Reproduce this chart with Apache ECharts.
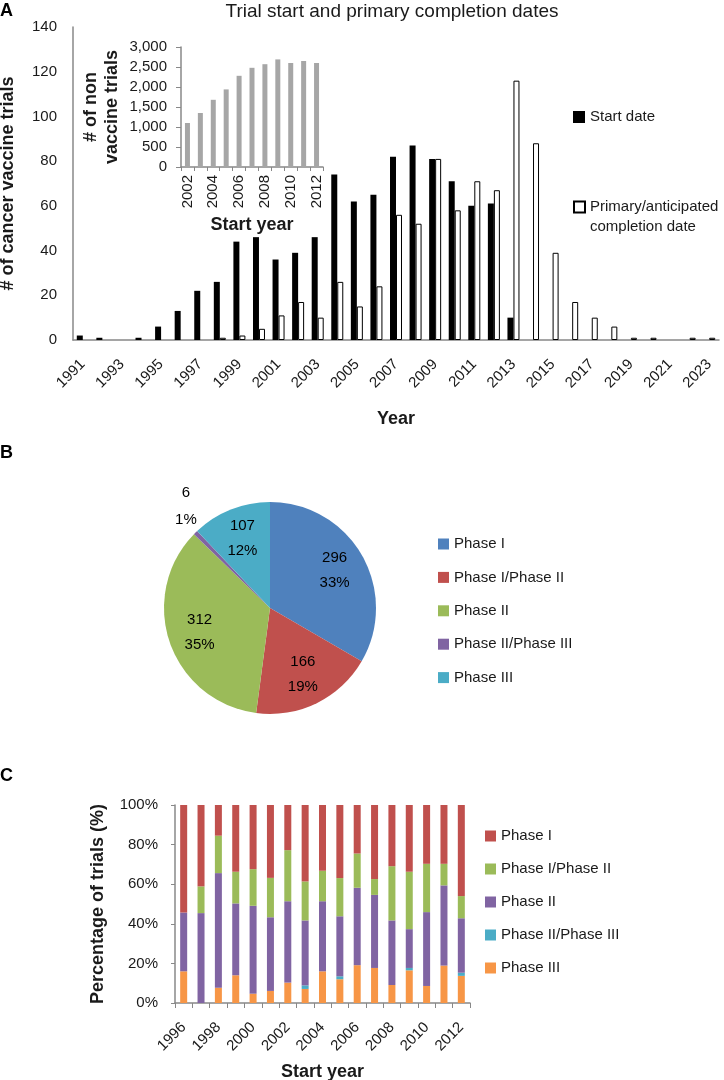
<!DOCTYPE html>
<html>
<head>
<meta charset="utf-8">
<script src="https://cdn.jsdelivr.net/npm/echarts@6/dist/echarts.min.js"></script>
<style>html,body{margin:0;padding:0;background:#fff;}#chart{width:724px;height:1080px;}</style>
</head>
<body>
<div id="chart"></div>
<script>
// ---------- Panel A data ----------
const yearsA = ['1991','1992','1993','1994','1995','1996','1997','1998','1999','2000','2001','2002','2003','2004','2005','2006','2007','2008','2009','2010','2011','2012','2013','2014','2015','2016','2017','2018','2019','2020','2021','2022','2023'];
const startDate = [2,1,0,1,6,13,22,26,44,46,36,39,46,74,62,65,82,87,81,71,60,61,10,0,0,0,0,0,0,0,0,0,0];
const completionDate = [0,0,0,0,0,0,0,1,2,5,11,17,10,26,15,24,56,52,81,58,71,67,116,88,39,17,10,6,1,1,0,1,1];
// ---------- Inset data ----------
const yearsInset = ['2002','2003','2004','2005','2006','2007','2008','2009','2010','2011','2012'];
const nonVaccine = [1100,1350,1680,1940,2280,2480,2570,2690,2600,2650,2600];
// ---------- Panel B data ----------
const phaseNames = ['Phase I','Phase I/Phase II','Phase II','Phase II/Phase III','Phase III'];
const phaseCounts = [296,166,312,6,107];
const phasePct = ['33%','19%','35%','1%','12%'];
// ---------- Panel C data (percent of trials) ----------
const yearsC = ['1996','1997','1998','1999','2000','2001','2002','2003','2004','2005','2006','2007','2008','2009','2010','2011','2012'];
const cPhaseI    = [54.3,41.1,15.5,33.7,32.4,36.8,22.8,38.6,33.2,36.9,24.5,37.4,30.9,33.7,29.7,29.7,46.0];
const cPhaseI_II = [0,13.5,18.9,16.0,18.5,19.9,25.8,19.7,15.4,19.3,17.3,8.0,27.4,29.0,24.4,10.9,11.2];
const cPhaseII   = [29.7,45.4,57.9,36.3,44.4,37.2,41.1,32.8,35.4,30.3,39.1,36.9,32.6,19.6,37.3,40.5,27.5];
const cPhaseII_III = [0,0,0,0,0,0,0,1.8,0,1.5,0,0,0,1.2,0,0,1.6];
const cPhaseIII  = [16.0,0,7.7,14.0,4.7,6.1,10.3,7.1,16.0,12.0,19.1,17.7,9.1,16.5,8.6,18.9,13.7];

const FONT = 'Liberation Sans, Arial, sans-serif';
const TXT = '#1a1a1a';
const AX = '#888';
const phaseColors = ['#4F81BD','#C0504D','#9BBB59','#8064A2','#4BACC6'];
const cColors = {'Phase I':'#C0504D','Phase I/Phase II':'#9BBB59','Phase II':'#8064A2','Phase II/Phase III':'#4BACC6','Phase III':'#F79646'};

const chart = echarts.init(document.getElementById('chart'), null, {renderer:'canvas'});

const pieData = phaseNames.map((n,i)=>({name:n, value:phaseCounts[i], itemStyle:{color:phaseColors[i]}}));
const pieLabelData = phaseNames.map((n,i)=>{
  const d = {name:n, value:phaseCounts[i]};
  if (n === 'Phase II/Phase III') {
    d.label = {position:'outside', formatter: '{v|' + phaseCounts[i] + '}\n{v|' + phasePct[i] + '}', offset:[25,-8]};
    d.labelLine = {show:false, length:25, length2:0};
  }
  return d;
});

const cSeriesDefs = [
  ['Phase III', cPhaseIII],
  ['Phase II/Phase III', cPhaseII_III],
  ['Phase II', cPhaseII],
  ['Phase I/Phase II', cPhaseI_II],
  ['Phase I', cPhaseI]
];

const letterStyle = {fontFamily:FONT, fontSize:18, fontWeight:'bold', color:'#000'};
const legendText = {fontFamily:FONT, fontSize:15, color:TXT, lineHeight:16};

const option = {
  animation:false,
  textStyle:{fontFamily:FONT},
  title:[
    {text:'Trial start and primary completion dates', left:392, top:2, padding:0, textAlign:'center', textStyle:{fontFamily:FONT, fontSize:19, fontWeight:'normal', color:TXT}},
    {text:'A', left:0, top:2, padding:0, textStyle:letterStyle},
    {text:'B', left:0, top:444, padding:0, textStyle:letterStyle},
    {text:'C', left:0, top:767, padding:0, textStyle:letterStyle}
  ],
  legend:[
    {data:['Start date'], left:573, top:109, padding:0, orient:'vertical', icon:'rect', itemWidth:12, itemHeight:12,
     textStyle:legendText},
    {data:['Primary/anticipated completion date'], left:573, top:177, padding:0, orient:'vertical', icon:'rect', itemWidth:11, itemHeight:11,
     formatter:()=> '\nPrimary/anticipated\ncompletion date',
     textStyle:{fontFamily:FONT, fontSize:15, color:TXT, lineHeight:20}},
    {data:phaseNames, left:438, top:536, padding:0, orient:'vertical', icon:'rect', itemWidth:11, itemHeight:11, itemGap:17.4,
     textStyle:legendText},
    {data:['Phase I','Phase I/Phase II','Phase II','Phase II/Phase III','Phase III'].map(n=>'C|'+n), left:485, top:828, padding:0, orient:'vertical', icon:'rect', itemWidth:11, itemHeight:11, itemGap:17,
     formatter:(n)=> n.split('|')[1],
     textStyle:legendText}
  ],
  grid:[
    {left:73, top:27, width:646, height:313, outerBoundsMode:'none', containLabel:false},
    {left:181, top:47, width:142, height:120, outerBoundsMode:'none', containLabel:false},
    {left:175, top:805, width:295, height:198, outerBoundsMode:'none', containLabel:false}
  ],
  xAxis:[
    {type:'category', gridIndex:0, data:yearsA, boundaryGap:true,
     axisLine:{show:true, lineStyle:{color:AX, width:1.5}}, axisTick:{show:false},
     axisLabel:{interval:1, rotate:45, margin:22, fontSize:15, color:TXT, fontFamily:FONT},
     name:'Year', nameLocation:'middle', nameGap:70, nameTextStyle:{fontSize:18, fontWeight:'bold', color:TXT, fontFamily:FONT}},
    {type:'category', gridIndex:1, data:yearsInset, boundaryGap:true,
     axisLine:{show:true, lineStyle:{color:AX, width:1.5}}, axisTick:{show:true, interval:0, length:4, lineStyle:{color:AX}},
     axisLabel:{interval:1, rotate:90, margin:8, fontSize:15, color:TXT, fontFamily:FONT},
     name:'Start year', nameLocation:'middle', nameGap:49, nameTextStyle:{fontSize:18, fontWeight:'bold', color:TXT, fontFamily:FONT}},
    {type:'category', gridIndex:2, data:yearsC, boundaryGap:true,
     axisLine:{show:true, lineStyle:{color:AX, width:1.5}}, axisTick:{show:true, interval:0, length:5, lineStyle:{color:AX}},
     axisLabel:{interval:1, rotate:45, margin:22, fontSize:15, color:TXT, fontFamily:FONT},
     name:'Start year', nameLocation:'middle', nameGap:60, nameTextStyle:{fontSize:18, fontWeight:'bold', color:TXT, fontFamily:FONT}}
  ],
  yAxis:[
    {type:'value', gridIndex:0, min:0, max:140, interval:20,
     axisLine:{show:true, lineStyle:{color:AX, width:1.5}}, axisTick:{show:false}, splitLine:{show:false},
     axisLabel:{fontSize:15, color:TXT, fontFamily:FONT, margin:16},
     name:'# of cancer vaccine trials', nameLocation:'middle', nameGap:56, nameTextStyle:{fontSize:18, fontWeight:'bold', color:TXT, fontFamily:FONT}},
    {type:'value', gridIndex:1, min:0, max:3000, interval:500,
     axisLine:{show:true, lineStyle:{color:AX, width:1.5}}, axisTick:{show:true, length:5, lineStyle:{color:AX}}, splitLine:{show:false},
     axisLabel:{fontSize:15, color:TXT, fontFamily:FONT, margin:14, formatter:(v)=>v.toLocaleString('en-US')},
     name:'# of non\nvaccine trials', nameLocation:'middle', nameGap:58, nameTextStyle:{fontSize:18, fontWeight:'bold', color:TXT, fontFamily:FONT, lineHeight:21}},
    {type:'value', gridIndex:2, min:0, max:100, interval:20,
     axisLine:{show:true, lineStyle:{color:AX, width:1.5}}, axisTick:{show:true, length:4, lineStyle:{color:AX}}, splitLine:{show:false},
     axisLabel:{fontSize:15, color:TXT, fontFamily:FONT, margin:17, formatter:'{value}%'},
     name:'Percentage of trials (%)', nameLocation:'middle', nameGap:68, nameTextStyle:{fontSize:18, fontWeight:'bold', color:TXT, fontFamily:FONT}}
  ],
  series:[
    {name:'Start date', type:'bar', xAxisIndex:0, yAxisIndex:0, data:startDate, barWidth:6, barGap:'0%',
     itemStyle:{color:'#000'}},
    {name:'Primary/anticipated completion date', type:'bar', xAxisIndex:0, yAxisIndex:0,
     data:completionDate.map(v => v === 0 ? null : v), barWidth:6, barGap:'0%',
     itemStyle:{color:'#fff', borderColor:'#000', borderWidth:1}},
    {name:'Non vaccine trials', type:'bar', xAxisIndex:1, yAxisIndex:1, data:nonVaccine, barWidth:5,
     itemStyle:{color:'#a6a6a6'}},
    {name:'Phase', type:'pie', center:[270,608], radius:[0,106], startAngle:90, clockwise:true, silent:true,
     data:pieData, label:{show:false}, labelLine:{show:false}},
    {name:'PhaseLabels', type:'pie', center:[270,608], radius:[37,106], startAngle:90, clockwise:true, silent:true,
     data:pieLabelData, itemStyle:{color:'rgba(0,0,0,0)'}, emphasis:{disabled:true},
     label:{show:true, position:'inside', color:'#000', fontSize:15, fontFamily:FONT, lineHeight:25,
       formatter:(p)=> p.value + '\n' + phasePct[p.dataIndex],
       rich:{v:{width:24, align:'center', fontSize:15, lineHeight:27, color:'#000', fontFamily:FONT}}},
     labelLine:{show:false}},
    ...cSeriesDefs.map(([n, arr])=>({
      name:'C|'+n, type:'bar', stack:'c', xAxisIndex:2, yAxisIndex:2, data:arr, barWidth:7,
      itemStyle:{color:cColors[n]}
    }))
  ]
};
chart.setOption(option);
</script>
</body>
</html>
